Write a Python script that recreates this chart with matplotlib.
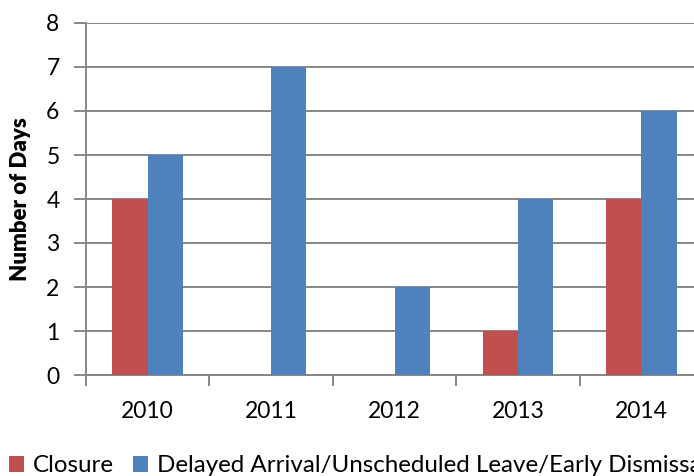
import numpy as np
import matplotlib
matplotlib.use('Agg')
import matplotlib.pyplot as plt
from matplotlib.patches import Patch

plt.rcParams['font.family'] = ['Lato', 'DejaVu Sans']

years = ['2010', '2011', '2012', '2013', '2014']
closure = [4, 0, 0, 1, 4]
delayed = [5, 7, 2, 4, 6]
series_names = ['Closure', 'Delayed Arrival/Unscheduled Leave/Early Dismissal']
colors = ['#C0504D', '#4F81BD']
grid_color = '#878787'

fig = plt.figure(figsize=(6.94, 4.76), dpi=100)
ax = fig.add_axes([86 / 694, 101 / 476, 617 / 694, 352 / 476])

x = np.arange(len(years))
w = 1 / 3.5
ax.bar(x - w / 2, closure, width=w, color=colors[0], zorder=3)
ax.bar(x + w / 2, delayed, width=w, color=colors[1], zorder=3)

ax.set_xlim(-0.5, len(years) - 0.5)
ax.set_ylim(0, 8)
ax.set_yticks(range(0, 9))
ax.yaxis.grid(True, color=grid_color, lw=1.4, zorder=0)
ax.tick_params(axis='y', length=9, width=1.4, color=grid_color, pad=10, labelsize=16.5)

ax.set_xticks(x)
ax.set_xticklabels(years)
ax.set_xticks(np.arange(-0.5, len(years)), minor=True)
ax.tick_params(axis='x', which='major', length=0, pad=19, labelsize=16.5)
ax.tick_params(axis='x', which='minor', length=8, width=1.4, color=grid_color)

for side in ['top', 'right']:
    ax.spines[side].set_visible(False)
for side in ['left', 'bottom']:
    ax.spines[side].set_color(grid_color)
    ax.spines[side].set_linewidth(1.4)

ax.set_ylabel('Number of Days', fontsize=16, fontweight='heavy', labelpad=11)

# legend runs past the right edge, as in the original chart
handles = [Patch(facecolor=c) for c in colors]
fig.legend(handles, series_names, loc='center left', bbox_to_anchor=(9 / 694, 10 / 476),
           ncol=2, frameon=False, fontsize=17.4, handlelength=0.63, handleheight=0.63,
           handletextpad=0.35, columnspacing=0.8, borderaxespad=0, borderpad=0)

fig.savefig('out.png', dpi=100)
